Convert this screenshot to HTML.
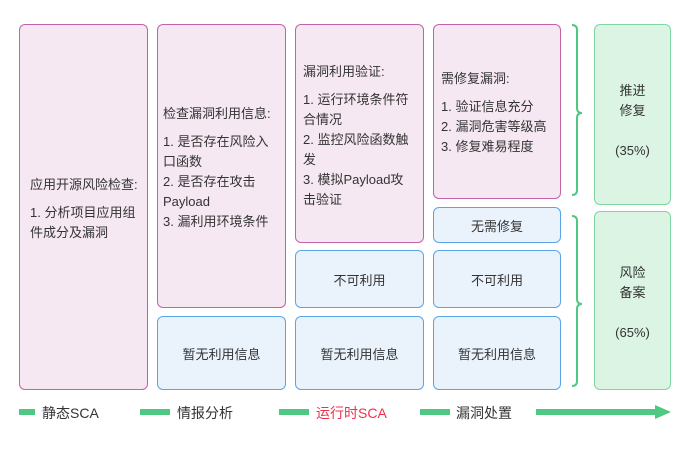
<!DOCTYPE html>
<html><head><meta charset="utf-8"><style>
body{margin:0;width:690px;height:449px;background:#fff;position:relative;overflow:hidden;font-family:"Liberation Sans","Noto Sans CJK SC",sans-serif;color:#333;font-size:13px}
.b{position:absolute;box-sizing:border-box;border-radius:6px}
.p{background:#f5e8f2;border:1.5px solid #c462a8}
.u{background:#eaf2fc;border:1.5px solid #5aa5e8;display:flex;align-items:center;justify-content:center}
.g{background:#dcf4e4;border:1.5px solid #7ed7a0;text-align:center}
.t{position:absolute;line-height:20px;white-space:nowrap}
.t .h{margin-bottom:8px}
.lab{position:absolute;top:403px;font-size:14px;line-height:20px}
.d{position:absolute;top:409px;height:6px;background:#4ec882}
</style></head><body>
<div class="b p" style="left:19px;top:24px;width:129px;height:366px"></div>
<div class="t" style="left:30px;top:175px"><div class="h">应用开源风险检查:</div>1. 分析项目应用组<br>件成分及漏洞</div>

<div class="b p" style="left:157px;top:24px;width:129px;height:284px"></div>
<div class="t" style="left:163px;top:104px"><div class="h">检查漏洞利用信息:</div>1. 是否存在风险入<br>口函数<br>2. 是否存在攻击<br>Payload<br>3. 漏利用环境条件</div>
<div class="b u" style="left:157px;top:316px;width:129px;height:74px">暂无利用信息</div>

<div class="b p" style="left:295px;top:24px;width:129px;height:219px"></div>
<div class="t" style="left:303px;top:62px"><div class="h">漏洞利用验证:</div>1. 运行环境条件符<br>合情况<br>2. 监控风险函数触<br>发<br>3. 模拟Payload攻<br>击验证</div>
<div class="b u" style="left:295px;top:250px;width:129px;height:58px">不可利用</div>
<div class="b u" style="left:295px;top:316px;width:129px;height:74px">暂无利用信息</div>

<div class="b p" style="left:433px;top:24px;width:128px;height:175px"></div>
<div class="t" style="left:441px;top:69px"><div class="h">需修复漏洞:</div>1. 验证信息充分<br>2. 漏洞危害等级高<br>3. 修复难易程度</div>
<div class="b u" style="left:433px;top:207px;width:128px;height:36px">无需修复</div>
<div class="b u" style="left:433px;top:250px;width:128px;height:58px">不可利用</div>
<div class="b u" style="left:433px;top:316px;width:128px;height:74px">暂无利用信息</div>

<svg style="position:absolute;left:0;top:0" width="690" height="449">
<path d="M572,25 Q577,25 577,30 L577,108 Q577,113 582,113 Q577,113 577,118 L577,190 Q577,195 572,195" fill="none" stroke="#4ec882" stroke-width="2"/>
<path d="M572,216 Q577,216 577,221 L577,299 Q577,304 582,304 Q577,304 577,309 L577,381 Q577,386 572,386" fill="none" stroke="#4ec882" stroke-width="2"/>
<polygon points="655,405 671,412 655,419" fill="#4ec882"/>
</svg>

<div class="b g" style="left:594px;top:24px;width:77px;height:181px"><div style="padding-top:56px;line-height:20px">推进<br>修复<br><br>(35%)</div></div>
<div class="b g" style="left:594px;top:211px;width:77px;height:179px"><div style="padding-top:51px;line-height:20px">风险<br>备案<br><br>(65%)</div></div>

<div class="d" style="left:19px;width:16px"></div>
<div class="lab" style="left:42px">静态SCA</div>
<div class="d" style="left:140px;width:30px"></div>
<div class="lab" style="left:177px">情报分析</div>
<div class="d" style="left:279px;width:30px"></div>
<div class="lab" style="left:316px;color:#f0304a">运行时SCA</div>
<div class="d" style="left:420px;width:30px"></div>
<div class="lab" style="left:456px">漏洞处置</div>
<div class="d" style="left:536px;width:122px"></div>
</body></html>
